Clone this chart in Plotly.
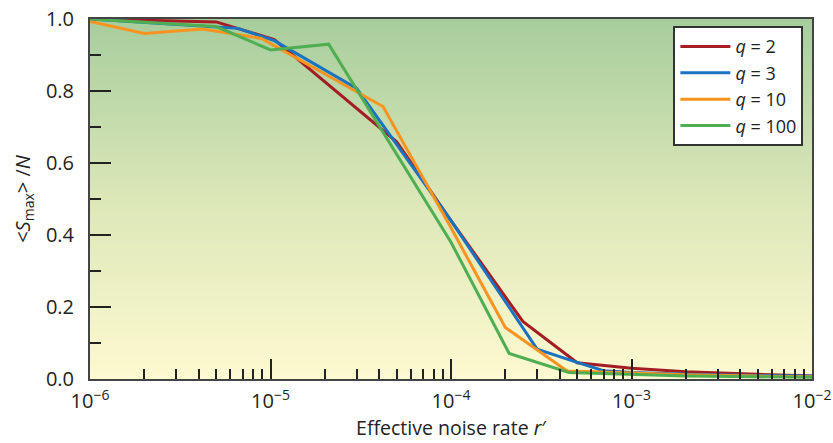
import numpy as np
import plotly.graph_objects as go

# ---- data ----
x_q2 = [1e-6, 5e-6, 1.05e-5, 5e-5, 1e-4, 2.5e-4, 5e-4, 1e-3, 2e-3, 5e-3, 1e-2]
y_q2 = [1.0, 0.992, 0.943, 0.659, 0.44, 0.16, 0.045, 0.03, 0.02, 0.012, 0.008]

x_q3 = [1e-6, 6.6e-6, 1.05e-5, 3e-5, 1e-4, 3e-4, 5e-4, 7e-4, 1e-3, 2e-3, 5e-3, 1e-2]
y_q3 = [1.0, 0.974, 0.94, 0.807, 0.44, 0.083, 0.046, 0.023, 0.018, 0.013, 0.01, 0.008]

x_q10 = [1e-6, 2e-6, 4.2e-6, 8.9e-6, 4.2e-5, 1e-4, 2e-4, 4.4e-4, 1e-3, 2e-3, 5e-3, 1e-2]
y_q10 = [0.993, 0.96, 0.972, 0.946, 0.757, 0.42, 0.143, 0.022, 0.017, 0.012, 0.008, 0.006]

x_q100 = [1e-6, 5e-6, 1e-5, 2.1e-5, 1e-4, 2.1e-4, 4.5e-4, 1e-3, 2e-3, 5e-3, 1e-2]
y_q100 = [1.0, 0.979, 0.914, 0.93, 0.38, 0.071, 0.018, 0.012, 0.008, 0.006, 0.005]

series_names = ["<i>q</i> = 2", "<i>q</i> = 3", "<i>q</i> = 10", "<i>q</i> = 100"]
series_colors = ["#a51d24", "#1a72c0", "#f7931e", "#4fae52"]

x_tickvals = [1e-6, 1e-5, 1e-4, 1e-3, 1e-2]
x_ticktext = ["10<sup>\u22126</sup>", "10<sup>\u22125</sup>", "10<sup>\u22124</sup>",
              "10<sup>\u22123</sup>", "10<sup>\u22122</sup>"]
x_minor = [m * 10.0 ** e for e in range(-6, -2) for m in range(2, 10)]

# background gradient (bottom yellow -> top green)
n_rows = 200
bg_y_edges = np.linspace(0, 1, n_rows + 1)
bg_z = [[(bg_y_edges[i] + bg_y_edges[i + 1]) / 2] for i in range(n_rows)]
bg_scale = [[0.0, "#fdf9d0"], [0.5, "#dce7b8"], [1.0, "#a7cd9d"]]

FONT = "Open Sans"

fig = go.Figure()
fig.add_trace(go.Heatmap(
    x=[1e-6, 1e-2], y=bg_y_edges, z=bg_z, colorscale=bg_scale,
    zmin=0, zmax=1, showscale=False, hoverinfo="skip", zsmooth=False,
))

for xs, ys, name, col in zip([x_q2, x_q3, x_q10, x_q100],
                             [y_q2, y_q3, y_q10, y_q100],
                             series_names, series_colors):
    fig.add_trace(go.Scatter(x=xs, y=ys, mode="lines", name=name,
                             line=dict(color=col, width=3)))

fig.update_layout(
    width=833, height=443,
    margin=dict(l=90, r=21, t=19, b=64),
    paper_bgcolor="white", plot_bgcolor="white",
    font=dict(family=FONT, size=20, color="#222"),
    showlegend=True,
    legend=dict(
        x=0.808, y=0.98, xanchor="left", yanchor="top",
        bgcolor="white", bordercolor="#333", borderwidth=2,
        itemwidth=50,
        font=dict(family=FONT, size=18, color="#222"),
    ),
    xaxis=dict(
        type="log", range=[-6, -2], automargin=False,
        tickvals=x_tickvals, ticktext=x_ticktext,
        ticks="inside", ticklen=20, tickwidth=2, tickcolor="#222",
        ticklabelstandoff=3,
        minor=dict(tickvals=x_minor, ticks="inside", ticklen=10,
                   tickwidth=2, tickcolor="#222", showgrid=False),
        showgrid=False, zeroline=False,
        showline=True, linewidth=2, linecolor="#444", mirror=True,
        title=dict(text="Effective noise rate <i>r</i>\u2032",
                   font=dict(family=FONT, size=19.5), standoff=8),
    ),
    yaxis=dict(
        range=[0, 1], dtick=0.2, tickformat=".1f", automargin=False,
        ticks="inside", ticklen=21, tickwidth=2, tickcolor="#222",
        ticklabelstandoff=10,
        minor=dict(dtick=0.1, ticks="inside", ticklen=11,
                   tickwidth=2, tickcolor="#222", showgrid=False),
        showgrid=False, zeroline=False,
        showline=True, linewidth=2, linecolor="#444", mirror=True,
        title=dict(text="&lt;<i>S</i><sub>max</sub>&gt; /<i>N</i>",
                   font=dict(family=FONT, size=20), standoff=10),
    ),
)

fig.write_html("out.html")
